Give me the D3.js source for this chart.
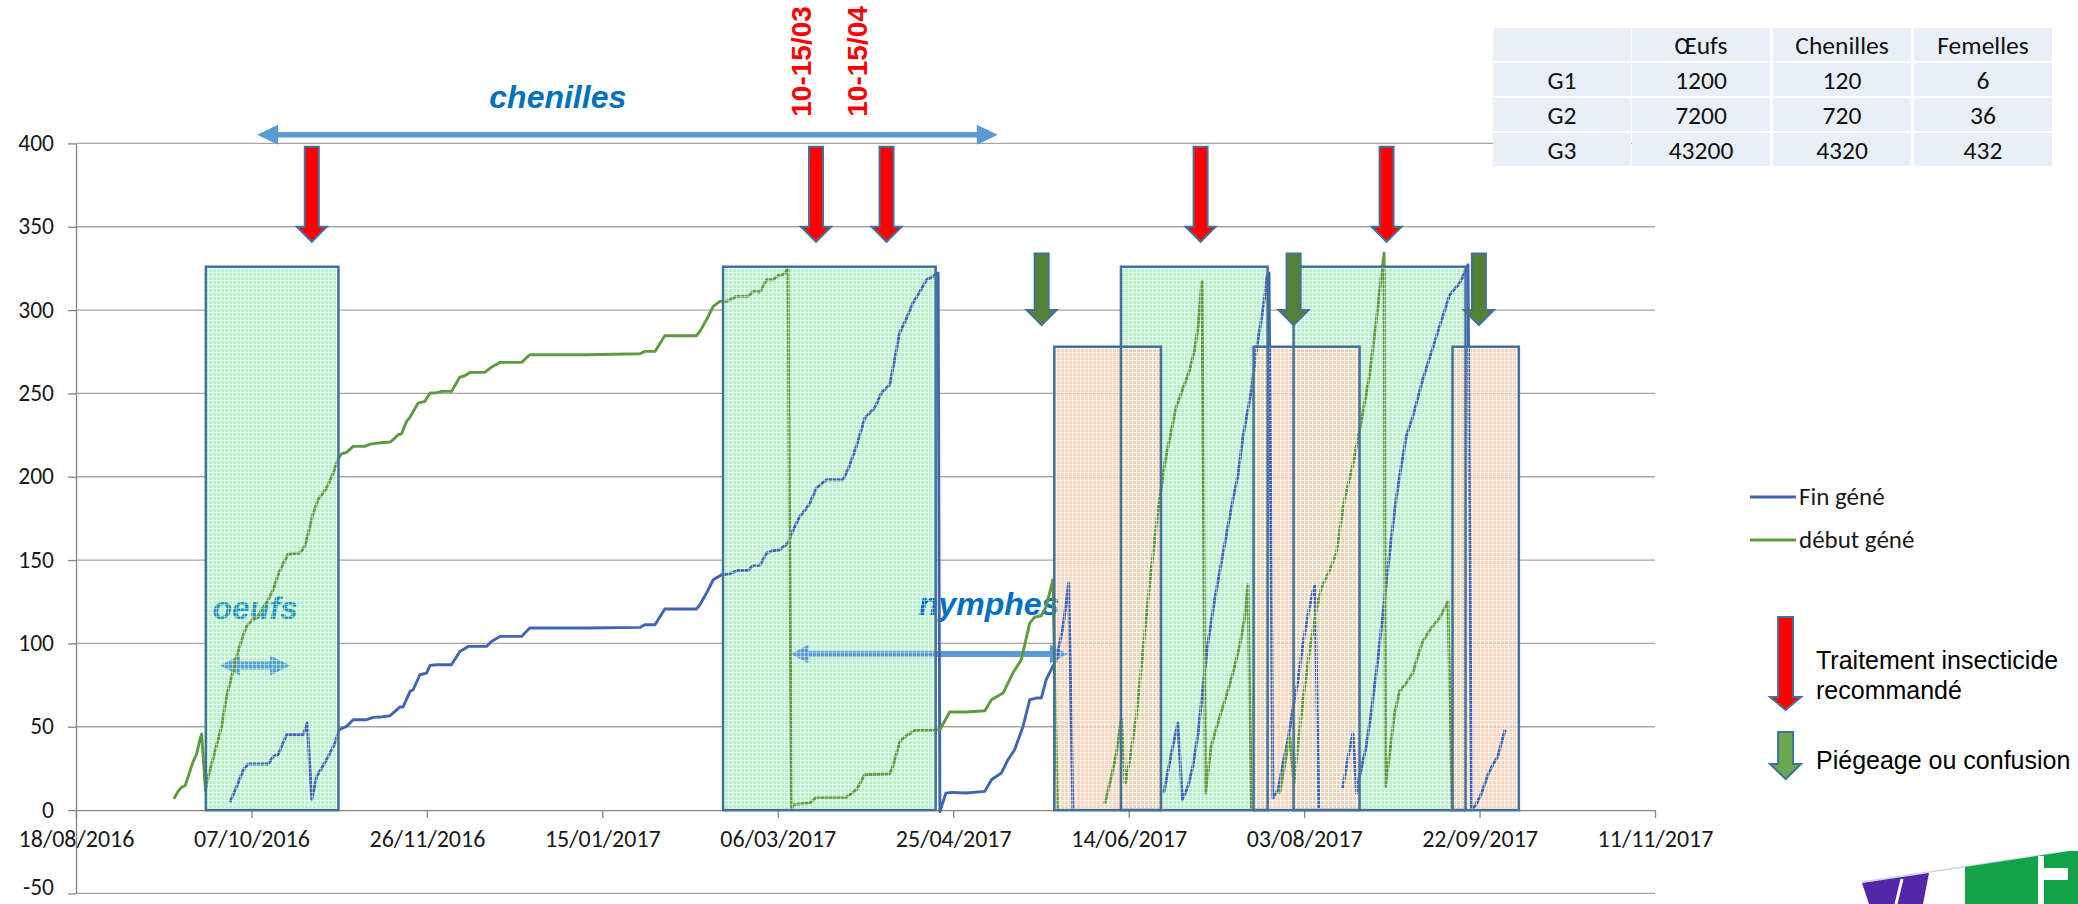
<!DOCTYPE html>
<html><head><meta charset="utf-8">
<script src="https://cdn.jsdelivr.net/npm/d3@7"></script>
<style>
html,body{margin:0;padding:0;background:#fff;}
svg{display:block;}
</style></head>
<body>
<svg id="c" width="2078" height="904"></svg>
<script>
// ---------- DATA ----------
// Dates are Excel serial numbers (42600 = 18/08/2016); series points given as [days after 18/08/2016, value]
const startSerial = 42600;
const xTicks = [42600, 42650, 42700, 42750, 42800, 42850, 42900, 42950, 43000, 43050];
const yTicks = [-50, 0, 50, 100, 150, 200, 250, 300, 350, 400];

const seriesNames = ["Fin géné", "début géné"];

const finGeneSeg1 = [[43.9,4.8],[45.8,14.2],[47.7,24.2],[49.1,27.6],[54.8,27.6],[56.2,32.2],[57.6,33.2],[60.0,45.2],[64.8,45.2],[65.9,52.2],[67.2,6.2],[68.6,20.2],[71.4,30.2],[73.8,40.2],[75.0,48.2],[77.1,50.2],[79.0,54.2],[82.8,54.2],[84.7,55.6],[86.6,55.8],[89.5,56.6],[90.9,59.2],[92.3,61.8],[93.2,61.8],[95.2,71.2],[96.1,72.2],[98.0,81.2],[99.9,82.2],[100.9,86.8],[102.8,87.2],[107.0,87.2],[109.4,95.2],[111.8,98.2],[117.0,98.2],[118.4,101.2],[120.8,104.2],[127.0,104.2],[129.3,109.2],[146.0,109.2],[160.7,109.6],[162.1,111.2],[165.0,111.2],[167.8,120.6],[176.8,120.6],[177.8,123.2],[179.7,130.2],[181.6,138.2],[184.0,141.2],[186.3,141.8],[188.7,143.8],[191.5,143.8],[193.0,146.8],[194.9,146.8],[196.8,154.2],[198.7,155.6],[200.6,156.2],[202.9,160.2],[204.4,168.2],[206.3,176.2],[208.2,181.2],[209.1,184.0],[211.0,193.2],[213.9,198.2],[218.6,198.2],[220.0,204.2],[222.4,218.2],[224.8,235.2],[227.6,241.2],[229.5,250.2],[231.9,255.2],[233.3,270.2],[234.7,286.2],[236.7,295.2],[238.5,304.2],[240.5,311.2],[242.4,318.2],[244.2,320.2],[245.7,322.2],[246.2,-1],[247.9,10.2],[249.5,10.6],[253.7,10.2],[259.0,11.2],[260.9,18.2],[263.7,22.2],[265.6,30.2],[267.5,36.2],[269.9,50.2],[271.8,66.2],[273.7,67.2],[275.1,67.2],[276.5,78.2],[277.9,84.2],[279.4,90.2],[281.3,110.2],[282.9,136.2],[284.1,0]];
const finGeneSeg2 = [[310.0,10.2],[312.2,34.2],[314.0,52.2],[315.3,6.2],[316.9,14.2],[318.3,26.2],[319.8,46.2],[321.2,74.2],[322.6,100.2],[324.5,126.2],[326.9,154.2],[329.7,186.2],[331.1,200.2],[332.6,224.2],[335.0,252.2],[336.4,276.2],[337.8,294.2],[338.8,308.2],[339.4,320.2],[340.0,322.2],[341.1,7.2],[342.6,12.2],[344.0,28.2],[345.5,43.2],[346.9,62.2],[348.3,78.2],[349.7,100.2],[351.2,118.2],[352.6,132.2],[353.1,134.6],[354.2,1.2]];
const finGeneSeg3 = [[361.0,13.2],[362.4,30.2],[363.9,46.2],[365.0,10.2],[365.8,20.2],[367.7,38.2],[369.1,58.2],[371.0,90.2],[372.9,126.2],[374.8,162.2],[376.2,186.2],[377.2,200.2],[379.1,224.2],[381.0,236.2],[383.8,258.2],[386.2,274.2],[388.6,290.2],[391.5,309.2],[394.3,316.2],[395.7,322.2],[396.7,327.2],[397.7,0],[399.0,3.2],[400.4,9.2],[402.4,21.2],[403.8,27.2],[405.2,32.2],[406.2,40.2],[407.3,48.2]];

const debutGeneSeg1 = [[27.9,6.8],[29.1,11.2],[30.1,13.8],[31.1,14.6],[32.0,20.2],[33.2,28.2],[34.4,33.8],[35.3,42.2],[35.8,45.6],[36.9,11.8],[37.7,20.2],[39.1,31.2],[40.5,42.2],[41.5,50.2],[42.9,68.2],[44.4,80.2],[45.8,92.2],[47.2,102.2],[48.6,110.2],[50.1,113.8],[51.5,115.2],[52.9,120.2],[54.8,126.2],[56.2,132.2],[57.6,141.2],[59.1,148.2],[60.5,153.6],[63.8,154.2],[65.2,158.2],[66.2,166.2],[67.6,178.2],[69.0,186.2],[71.4,193.2],[73.3,202.2],[74.8,211.2],[75.7,213.8],[77.1,214.6],[79.0,218.2],[82.3,218.2],[83.8,219.6],[86.1,220.2],[89.5,220.8],[90.9,223.2],[91.8,225.2],[92.8,225.8],[94.2,233.2],[95.2,235.8],[97.5,244.2],[99.4,245.2],[100.9,250.2],[102.3,250.2],[104.2,251.2],[107.0,251.2],[109.4,259.8],[110.8,260.6],[112.3,262.6],[116.5,262.6],[118.4,265.8],[120.8,268.6],[127.0,268.6],[129.3,273.2],[145.5,273.2],[160.7,273.8],[162.1,275.2],[165.0,275.2],[167.8,284.6],[176.8,284.6],[177.8,287.2],[179.7,294.2],[181.6,302.2],[183.5,305.2],[185.4,305.2],[188.2,308.2],[191.5,308.2],[193.0,311.2],[194.9,310.8],[196.8,318.2],[198.7,318.2],[200.1,320.6],[201.5,321.2],[202.9,324.6],[203.9,0.6],[204.4,3.2],[206.7,3.8],[209.1,4.2],[211.0,7.6],[219.5,7.6],[222.4,12.2],[224.8,21.2],[231.9,21.8],[232.8,26.2],[234.8,41.2],[236.2,43.8],[239.0,47.8],[246.2,48.2],[249.0,58.8],[253.7,58.8],[259.0,59.6],[260.9,66.2],[264.2,70.2],[267.0,82.2],[269.4,90.2],[271.8,112.2],[273.2,115.8],[275.1,116.6],[276.5,122.2],[278.4,138.2],[279.7,0]];
const debutGeneSeg2 = [[293.2,3.8],[295.1,20.2],[296.5,34.2],[297.9,54.6],[299.0,15.8],[300.3,30.2],[302.2,56.2],[304.1,96.2],[306.0,136.2],[308.4,180.2],[310.3,208.2],[312.2,228.2],[313.6,242.2],[315.0,250.2],[317.4,264.2],[318.8,276.2],[319.8,290.2],[320.4,306.2],[320.9,317.2],[321.9,10.2],[323.5,38.2],[325.4,52.2],[327.8,68.2],[329.7,82.2],[331.6,98.2],[333.0,114.2],[334.0,135.2],[335.0,0]];
const debutGeneSeg3 = [[343.0,9.8],[345.9,44.2],[347.1,16.2],[348.3,40.2],[349.7,66.2],[351.6,96.2],[353.5,120.2],[354.9,133.2],[357.3,144.2],[359.2,154.2],[360.6,174.2],[361.5,186.2],[363.8,206.2],[366.2,232.2],[368.6,260.2],[370.5,292.2],[371.9,318.2],[372.8,334.2],[373.2,14.2],[374.4,34.2],[375.8,58.2],[377.2,71.2],[379.1,76.2],[381.0,82.2],[382.4,92.2],[383.8,101.2],[386.2,109.2],[388.6,115.2],[391.0,125.2],[392.2,0]];

// shaded periods: [start day, end day, top value]
const greenPeriods = [[37.0,74.8,326],[184.4,245.0,326],[297.8,339.6,326],[347.0,396.0,326]];
const orangePeriods = [[278.8,309.2,278],[335.6,365.8,278],[392.3,411.2,278]];

// arrow annotations: day positions
const redArrowDays = [67.2, 210.9, 231.0, 320.5, 373.5];
const redArrowValues = [398, 350, 341];      // top, head start, tip
const greenArrowDays = [275.2, 347.0, 399.8];
const greenArrowValues = [334, 300, 291];

const chenillesSpan = [51.6, 262.7, 405.2];   // from day, to day, value
const oeufsSpan = [41.0, 61.0, 86.8];
const nymphesSpan = [203.7, 282.7, 93.6];

const stageLabels = [
  {text: "chenilles", day: 137.3, value: 421.3, anchor: "middle", color: "#0070c0"},
  {text: "oeufs", day: 38.9, value: 114.8, anchor: "start", color: "#1a94b8"},
  {text: "nymphes", day: 240.2, value: 117.2, anchor: "start", color: "#0070c0"}
];
const dateLabels = [{text: "10-15/03", day: 209.6, value: 416}, {text: "10-15/04", day: 225.4, value: 416}];

const tableHeader = ["", "Œufs", "Chenilles", "Femelles"];
const tableRows = [["G1", "1200", "120", "6"], ["G2", "7200", "720", "36"], ["G3", "43200", "4320", "432"]];

const legendArrowLabels = [["Traitement insecticide", "recommandé"], ["Piégeage ou confusion"]];

// ---------- DRAW ----------
const svg = d3.select('#c');
const x = d3.scaleLinear().domain([xTicks[0], xTicks[xTicks.length - 1]]).range([76, 1655]);
const y = d3.scaleLinear().domain([yTicks[0], yTicks[yTicks.length - 1]]).range([893.4, 143.4]);
const xd = d => x(startSerial + d);
const fmtDate = d3.utcFormat('%d/%m/%Y');
const serialToDate = s => new Date((s - 25569) * 864e5);

const BLUE = '#3f66b3', GREEN = '#5e9a3e', BORDER = '#41719c';
const calibri = 'Carlito, Calibri, Lato, sans-serif';
const arial = '"Liberation Sans", Arial, sans-serif';

const defs = svg.append('defs');
function mkPattern(id, base) {
  const p = defs.append('pattern').attr('id', id).attr('width', 4).attr('height', 4)
    .attr('patternUnits', 'userSpaceOnUse');
  if (base) p.append('rect').attr('width', 4).attr('height', 4).attr('fill', base);
  p.append('path').attr('d', 'M0 0.5H4M0.5 0V4').attr('stroke', '#fff').attr('stroke-opacity', base ? 0.5 : 0.45).attr('stroke-width', 1);
}
mkPattern('pg', '#b6f2c9');
mkPattern('po', '#f8cbad');
mkPattern('pw', null);

// grid
svg.append('g').selectAll('line').data(yTicks.filter(v => v !== 0)).join('line')
  .attr('x1', x.range()[0]).attr('x2', x.range()[1])
  .attr('y1', d => y(d)).attr('y2', d => y(d))
  .attr('stroke', '#a6a6a6').attr('stroke-width', 1.3);

// axes
const gy = svg.append('g').attr('transform', `translate(${x.range()[0]},0)`)
  .call(d3.axisLeft(y).tickValues(yTicks).tickFormat(d => String(d)).tickSizeInner(8).tickSizeOuter(0).tickPadding(14));
gy.select('.domain').attr('stroke', '#868686').attr('stroke-width', 1.3);
gy.selectAll('.tick line').attr('stroke', '#868686').attr('stroke-width', 1.3);
gy.selectAll('.tick text').attr('dy', d => d === yTicks[0] ? '0.05em' : '0.3em')
  .attr('font-family', calibri).attr('font-size', 23.5).attr('fill', '#1a1a1a');

const gx = svg.append('g').attr('transform', `translate(0,${y(0)})`)
  .call(d3.axisBottom(x).tickValues(xTicks).tickFormat(s => fmtDate(serialToDate(s))).tickSizeInner(8).tickSizeOuter(0));
gx.select('.domain').attr('stroke', '#868686').attr('stroke-width', 1.3);
gx.selectAll('.tick line').attr('stroke', '#868686').attr('stroke-width', 1.3);
gx.selectAll('.tick text').attr('y', 37).attr('dy', 0).attr('font-family', calibri).attr('font-size', 24).attr('fill', '#1a1a1a');

function dblArrow(x1, x2, yc, t, h, L) {
  return `M${x1},${yc} L${x1 + L},${yc - h} L${x1 + L},${yc - t} L${x2 - L},${yc - t} L${x2 - L},${yc - h} L${x2},${yc} L${x2 - L},${yc + h} L${x2 - L},${yc + t} L${x1 + L},${yc + t} L${x1 + L},${yc + h} Z`;
}
function downArrow(cx, yTop, yHead, yTip, sw, hw) {
  return `M${cx - sw},${yTop} H${cx + sw} V${yHead} H${cx + hw} L${cx},${yTip} L${cx - hw},${yHead} H${cx - sw} Z`;
}
const rectAttrs = sel => sel
  .attr('x', d => xd(d[0])).attr('width', d => xd(d[1]) - xd(d[0]))
  .attr('y', d => y(d[2])).attr('height', d => y(0) - y(d[2]));

// shaded period fills
svg.append('g').selectAll('rect').data(greenPeriods).join('rect').call(rectAttrs).attr('fill', 'url(#pg)');
svg.append('g').selectAll('rect').data(orangePeriods).join('rect').call(rectAttrs).attr('fill', 'url(#po)').attr('fill-opacity', 0.8);

// stage labels & arrows
const under = svg.append('g');
under.append('path').attr('d', dblArrow(xd(oeufsSpan[0]), xd(oeufsSpan[1]), y(oeufsSpan[2]), 4, 10, 20)).attr('fill', '#4fa2c8');
under.append('path').attr('d', dblArrow(xd(nymphesSpan[0]), xd(nymphesSpan[1]), y(nymphesSpan[2]), 3, 9.5, 18)).attr('fill', '#5b9bd5');
under.selectAll('text').data(stageLabels.filter(d => d.text !== 'chenilles')).join('text')
  .attr('x', d => xd(d.day)).attr('y', d => y(d.value)).attr('text-anchor', d => d.anchor)
  .attr('font-family', arial).attr('font-weight', 'bold').attr('font-style', 'italic').attr('font-size', 32)
  .attr('fill', d => d.color).text(d => d.text);

// lines
const line = d3.line().x(d => xd(d[0])).y(d => y(d[1]));
const lg = svg.append('g').attr('fill', 'none').attr('stroke-width', 2.9).attr('stroke-linejoin', 'round');
[finGeneSeg1, finGeneSeg2, finGeneSeg3].forEach(s => lg.append('path').attr('d', line(s)).attr('stroke', BLUE));
[debutGeneSeg1, debutGeneSeg2, debutGeneSeg3].forEach(s => lg.append('path').attr('d', line(s)).attr('stroke', GREEN));

// white hatch overlay on periods + outlines
svg.append('g').selectAll('rect').data(greenPeriods.concat(orangePeriods)).join('rect').call(rectAttrs).attr('fill', 'url(#pw)');
svg.append('g').selectAll('rect').data(greenPeriods.concat(orangePeriods)).join('rect').call(rectAttrs)
  .attr('fill', 'none').attr('stroke', BORDER).attr('stroke-width', 2.5);

// vertical arrows
svg.append('g').selectAll('path').data(redArrowDays).join('path')
  .attr('d', d => downArrow(xd(d), y(redArrowValues[0]), y(redArrowValues[1]), y(redArrowValues[2]), 7, 15))
  .attr('fill', '#ff0000').attr('stroke', BORDER).attr('stroke-width', 2);
svg.append('g').selectAll('path').data(greenArrowDays).join('path')
  .attr('d', d => downArrow(xd(d), y(greenArrowValues[0]), y(greenArrowValues[1]), y(greenArrowValues[2]), 7, 15))
  .attr('fill', '#548235').attr('stroke', BORDER).attr('stroke-width', 2);

// chenilles
svg.append('path').attr('d', dblArrow(xd(chenillesSpan[0]), xd(chenillesSpan[1]), y(chenillesSpan[2]), 2.8, 10, 21)).attr('fill', '#5b9bd5');
const ch = stageLabels[0];
svg.append('text').attr('x', xd(ch.day)).attr('y', y(ch.value)).attr('text-anchor', 'middle')
  .attr('font-family', arial).attr('font-weight', 'bold').attr('font-style', 'italic').attr('font-size', 32)
  .attr('fill', ch.color).text(ch.text);

svg.append('g').selectAll('text').data(dateLabels).join('text')
  .attr('transform', d => `translate(${xd(d.day)},${y(d.value)}) rotate(-90)`)
  .attr('font-family', arial).attr('font-weight', 'bold').attr('font-size', 28).attr('fill', '#ff0000')
  .text(d => d.text);

// table
const colX = [1493, 1632, 1773, 1914], colW = 138, rowY = [28, 63, 98, 133], rowH = 33;
const tg = svg.append('g');
[tableHeader].concat(tableRows).forEach((row, r) => {
  row.forEach((cell, c) => {
    tg.append('rect').attr('x', colX[c]).attr('y', rowY[r]).attr('width', colW).attr('height', rowH).attr('fill', '#e9eff7');
    tg.append('text').attr('x', colX[c] + colW / 2).attr('y', rowY[r] + rowH / 2 + 9).attr('text-anchor', 'middle')
      .attr('font-family', calibri).attr('font-size', 25.5).attr('fill', '#111').text(cell);
  });
});

// legend (series)
const leg = svg.append('g');
[[BLUE, 497], [GREEN, 540]].forEach((s, i) => {
  leg.append('line').attr('x1', 1750).attr('x2', 1796).attr('y1', s[1]).attr('y2', s[1]).attr('stroke', s[0]).attr('stroke-width', 3);
  leg.append('text').attr('x', 1799).attr('y', s[1] + 8).attr('font-family', calibri).attr('font-size', 25)
    .attr('fill', '#1a1a1a').text(seriesNames[i]);
});
// legend (arrows)
leg.append('path').attr('d', downArrow(1785.6, 617, 697, 710, 7.5, 15.5)).attr('fill', '#ff0000').attr('stroke', BORDER).attr('stroke-width', 2);
leg.append('path').attr('d', downArrow(1785.6, 732, 764, 779, 7.5, 15.5)).attr('fill', '#6aa84f').attr('stroke', BORDER).attr('stroke-width', 2);
legendArrowLabels[0].forEach((t, i) => leg.append('text').attr('x', 1816).attr('y', 668.7 + i * 30)
  .attr('font-family', arial).attr('font-size', 25).attr('fill', '#000').text(t));
leg.append('text').attr('x', 1816).attr('y', 768.7).attr('font-family', arial).attr('font-size', 25).attr('fill', '#000').text(legendArrowLabels[1][0]);

// logo (partially visible)
const logo = svg.append('g');
logo.append('line').attr('x1', 1862).attr('y1', 882).attr('x2', 2070).attr('y2', 851).attr('stroke', '#c9d6ea').attr('stroke-width', 1.5);
logo.append('polygon').attr('points', '1862,883 1929,873 1923,904 1869,904').attr('fill', '#5227a8');
logo.append('line').attr('x1', 1896).attr('y1', 904).attr('x2', 1902).attr('y2', 879).attr('stroke', '#fff').attr('stroke-width', 3);
logo.append('polygon').attr('points', '1965,867 2070,851 2078,851 2078,904 1965,904').attr('fill', '#12a347');
logo.append('rect').attr('x', 2038).attr('y', 856).attr('width', 6).attr('height', 48).attr('fill', '#fff');
logo.append('rect').attr('x', 2044).attr('y', 868).attr('width', 24).attr('height', 12).attr('fill', '#fff');
</script>
</body></html>
